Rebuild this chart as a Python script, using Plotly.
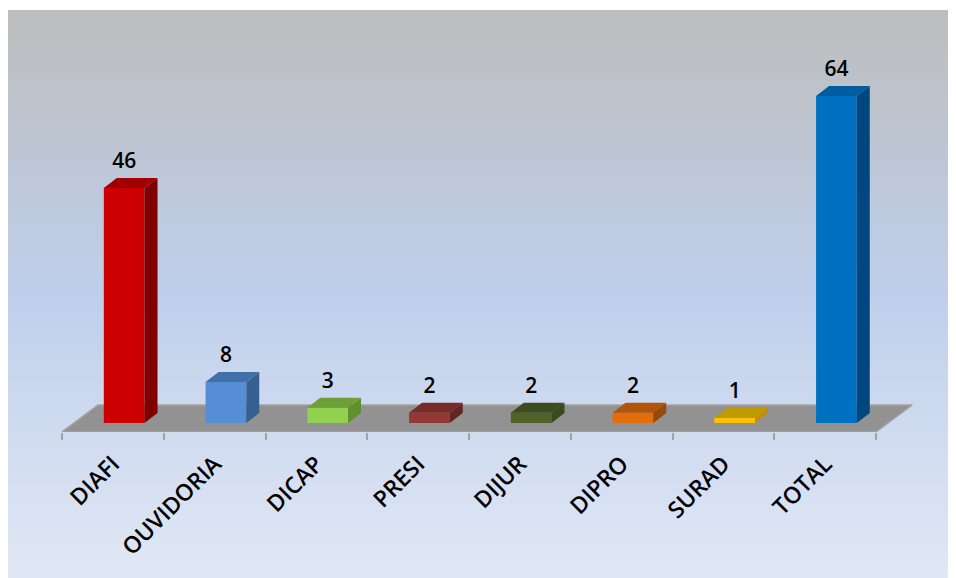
import plotly.graph_objects as go

# Processes per department
categories = ["DIAFI", "OUVIDORIA", "DICAP", "PRESI", "DIJUR", "DIPRO", "SURAD", "TOTAL"]
values = [46, 8, 3, 2, 2, 2, 1, 64]

# Face colours of each column
front_colors = ["#cc0000", "#558ed5", "#92d050", "#953735", "#4f6228", "#e46c0a", "#ffc000", "#0070c0"]
side_colors = ["#7f0000", "#376092", "#5f8f2e", "#632523", "#3a4a1c", "#984807", "#bf9000", "#00467f"]
top_colors = ["#a00000", "#4170a8", "#6f9f38", "#772c2a", "#3d4b1e", "#b2540a", "#bf9a00", "#005ca0"]

W, H = 956, 578
BG_LEFT, BG_RIGHT, BG_TOP, BG_BOTTOM = 8, 948, 10, 578
AX_LEFT, AX_RIGHT, AX_TOP, AX_BOTTOM = 62, 912.6, 55, 432
UNIT_X = 101.75          # pixels per category
UNIT_Y = 5.11            # pixels per value unit
X_MIN, X_MAX = -0.5, (AX_RIGHT - AX_LEFT) / UNIT_X - 0.5
Y_MIN = -(AX_BOTTOM - 423) / UNIT_Y
Y_MAX = Y_MIN + (AX_BOTTOM - AX_TOP) / UNIT_Y

BAR_SHIFT = 0.111
BAR_WIDTH = 0.40
DEPTH_X, DEPTH_Y = 13 / UNIT_X, 10 / UNIT_Y
FLOOR_DX, FLOOR_DY = 36 / UNIT_X, 27 / UNIT_Y
FLOOR_X0, FLOOR_X1 = -0.5, 7.5

fig = go.Figure()

# Panel background: grey at the top fading through blue to a pale tint
fig.add_trace(go.Heatmap(
    z=[[0], [0.5], [1]],
    y=[1, 0.5, 0],
    x=[0],
    xaxis="x", yaxis="y",
    zsmooth="best",
    zmin=0, zmax=1,
    colorscale=[[0, "#bdbdbd"], [0.5, "#bfcfeb"], [1, "#e1e8f5"]],
    showscale=False,
    hoverinfo="skip",
))

# Front faces
xs = [i + BAR_SHIFT for i in range(len(categories))]
fig.add_trace(go.Bar(
    x=xs, y=values, width=BAR_WIDTH,
    marker=dict(color=front_colors, line=dict(width=0)),
    xaxis="x2", yaxis="y2",
    hoverinfo="skip",
))

# Side and top faces, derived from each column's value
for x, v, sc, tc in zip(xs, values, side_colors, top_colors):
    x0, x1 = x - BAR_WIDTH / 2, x + BAR_WIDTH / 2
    fig.add_trace(go.Scatter(
        x=[x1, x1 + DEPTH_X, x1 + DEPTH_X, x1, x1],
        y=[0, DEPTH_Y, v + DEPTH_Y, v, 0],
        mode="lines", fill="toself", fillcolor=sc, line=dict(width=0),
        xaxis="x2", yaxis="y2", hoverinfo="skip",
    ))
    fig.add_trace(go.Scatter(
        x=[x0, x1, x1 + DEPTH_X, x0 + DEPTH_X, x0],
        y=[v, v, v + DEPTH_Y, v + DEPTH_Y, v],
        mode="lines", fill="toself", fillcolor=tc, line=dict(width=0),
        xaxis="x2", yaxis="y2", hoverinfo="skip",
    ))

# Value labels above the columns
fig.add_trace(go.Scatter(
    x=xs,
    y=[v + DEPTH_Y + 3.0 for v in values],
    text=[str(v) for v in values],
    mode="text",
    textposition="middle center",
    textfont=dict(family="Open Sans", size=21, color="#000000", weight=600),
    xaxis="x2", yaxis="y2", hoverinfo="skip",
))

# Chart floor, behind the columns
floor_path = (
    f"M {FLOOR_X0} {Y_MIN} L {FLOOR_X1} {Y_MIN} "
    f"L {FLOOR_X1 + FLOOR_DX} {Y_MIN + FLOOR_DY} L {FLOOR_X0 + FLOOR_DX} {Y_MIN + FLOOR_DY} Z"
)
fig.add_shape(type="path", path=floor_path, xref="x2", yref="y2", layer="below",
              fillcolor="#929292", line=dict(color="#a3a3a3", width=1.5))

fig.update_layout(
    width=W, height=H,
    margin=dict(l=0, r=0, t=0, b=0, pad=0),
    paper_bgcolor="white",
    plot_bgcolor="rgba(0,0,0,0)",
    showlegend=False,
    xaxis=dict(domain=[BG_LEFT / W, BG_RIGHT / W], range=[-0.5, 0.5], visible=False),
    yaxis=dict(domain=[(H - BG_BOTTOM) / H, (H - BG_TOP) / H], range=[0, 1], visible=False),
    xaxis2=dict(
        domain=[AX_LEFT / W, AX_RIGHT / W],
        range=[X_MIN, X_MAX],
        anchor="y2",
        showgrid=False, zeroline=False, showline=False,
        tickmode="array",
        tickvals=list(range(len(categories))),
        ticktext=categories,
        tickangle=-45,
        ticks="",
        ticklabelstandoff=13,
        tickfont=dict(family="Open Sans", size=23, color="#000000", weight=600),
        minor=dict(tick0=-0.5, dtick=1, ticks="outside", ticklen=7, tickwidth=2,
                   tickcolor="#a3a3a3", showgrid=False),
    ),
    yaxis2=dict(
        domain=[(H - AX_BOTTOM) / H, (H - AX_TOP) / H],
        range=[Y_MIN, Y_MAX],
        anchor="x2",
        visible=False,
    ),
)

fig.write_html("out.html")
